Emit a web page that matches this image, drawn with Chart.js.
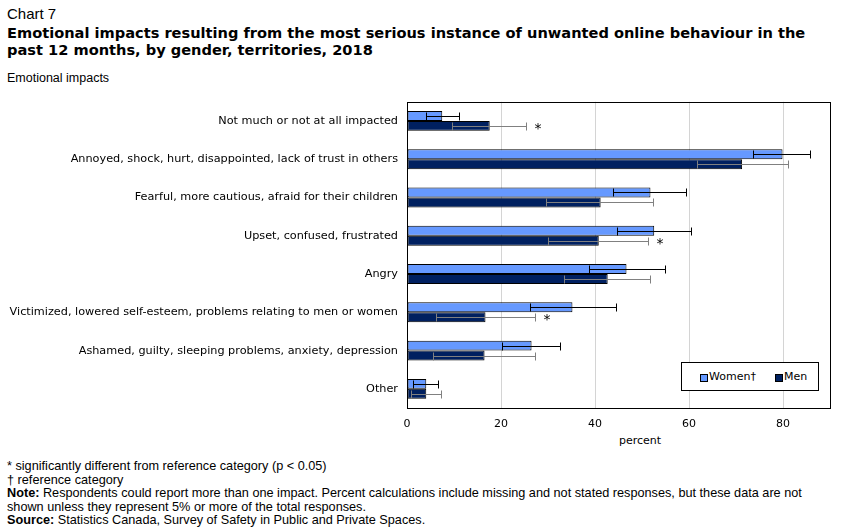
<!DOCTYPE html>
<html>
<head>
<meta charset="utf-8">
<script src="https://cdn.jsdelivr.net/npm/chart.js@4/dist/chart.umd.min.js"></script>
<style>
    body { margin: 0; background: #fff; font-family: 'Liberation Sans', Arial, sans-serif; color: #000; }
    .txt { position: absolute; left: 7px; white-space: nowrap; }
    #wrap { position: absolute; left: 0; top: 86px; width: 846px; height: 344px; }
    #legenda { position: absolute; left: 681px; top: 362px; width: 136px; height: 27px; border: 1px solid #000; background: #fff;
               font-family: 'DejaVu Sans', Verdana, sans-serif; font-size: 11px; }
    #legenda span.box { position: absolute; top: 11px; width: 6px; height: 6px; border: 1px solid #000; }
    #legenda span.lbl { position: absolute; top: 7px; }
</style>
</head>
<body>

<div class="txt" style="top:5px;font-size:15px;">Chart 7</div>
<div class="txt" style="top:24px;font-family:'DejaVu Sans',Verdana,sans-serif;font-size:14.6px;font-weight:bold;line-height:17px;">Emotional impacts resulting from the most serious instance of unwanted online behaviour in the<br>past 12 months, by gender, territories, 2018</div>
<div class="txt" style="top:71px;font-size:12.5px;">Emotional impacts</div>

<div id="wrap"><canvas id="chartImpactos"></canvas></div>

<div class="txt" style="left:619px;top:434px;font-family:'DejaVu Sans',Verdana,sans-serif;font-size:11px;">percent</div>

<div id="legenda">
    <span class="box" style="left:18px;background:#6699ff;"></span><span class="lbl" style="left:27px;">Women†</span>
    <span class="box" style="left:93px;background:#002060;"></span><span class="lbl" style="left:102px;">Men</span>
</div>

<div class="txt" style="top:460px;font-size:12.7px;line-height:13.5px;">
* significantly different from reference category (p &lt; 0.05)<br>
† reference category<br>
<b>Note:</b> Respondents could report more than one impact. Percent calculations include missing and not stated responses, but these data are not<br>
shown unless they represent 5% or more of the total responses.<br>
<b>Source:</b> Statistics Canada, Survey of Safety in Public and Private Spaces.
</div>

<script>
// ========== DADOS ==========
const categorias = [
    'Not much or not at all impacted',
    'Annoyed, shock, hurt, disappointed, lack of trust in others',
    'Fearful, more cautious, afraid for their children',
    'Upset, confused, frustrated',
    'Angry',
    'Victimized, lowered self-esteem, problems relating to men or women',
    'Ashamed, guilty, sleeping problems, anxiety, depression',
    'Other'
];

const mulheres = [7.5, 79.9, 51.8, 52.6, 46.7, 35.2, 26.5, 4.1];
const mulheresMin = [4.1, 73.7, 43.9, 44.6, 38.7, 26.2, 20.2, 1.3];
const mulheresMax = [11.1, 85.8, 59.4, 60.5, 54.8, 44.4, 32.6, 6.7];

const homens = [17.6, 71.3, 41.2, 40.8, 42.7, 16.7, 16.5, 4.1];
const homensMin = [9.5, 61.8, 29.6, 30.1, 33.5, 6.2, 5.6, 0.9];
const homensMax = [25.4, 81.0, 52.4, 51.3, 51.8, 27.3, 27.3, 7.3];

// asterisco = diferente da categoria de referência
const homensSig = [true, false, false, true, false, true, false, false];

const ticksX = [0, 20, 40, 60, 80];

const CORES = {
    mulheres: '#6699ff',
    homens: '#002060',
    erroMulheres: '#000000',
    erroHomens: '#808080',
    grade: '#d4d4d4'
};

// ========== PLUGINS ==========
const barrasErro = {
    id: 'barrasErro',
    afterDatasetsDraw(chart) {
        const ctx = chart.ctx;
        const x = chart.scales.x;
        const series = [
            { min: mulheresMin, max: mulheresMax, cor: CORES.erroMulheres },
            { min: homensMin, max: homensMax, cor: CORES.erroHomens }
        ];
        ctx.save();
        series.forEach((s, i) => {
            const meta = chart.getDatasetMeta(i);
            meta.data.forEach((bar, j) => {
                const y = Math.round(bar.y) + 0.5;
                const x1 = Math.round(x.getPixelForValue(s.min[j])) + 0.5;
                const x2 = Math.round(x.getPixelForValue(s.max[j])) + 0.5;
                ctx.strokeStyle = s.cor;
                ctx.lineWidth = 1;
                ctx.beginPath();
                ctx.moveTo(x1, y); ctx.lineTo(x2, y);
                ctx.moveTo(x1, y - 4); ctx.lineTo(x1, y + 4);
                ctx.moveTo(x2, y - 4); ctx.lineTo(x2, y + 4);
                ctx.stroke();
                if (i === 1 && homensSig[j]) {
                    ctx.fillStyle = '#000';
                    ctx.font = '14px "DejaVu Sans", Verdana, sans-serif';
                    ctx.textBaseline = 'middle';
                    ctx.fillText('*', x2 + 8, y + 3);
                }
            });
        });
        ctx.restore();
    }
};

const moldura = {
    id: 'moldura',
    afterDraw(chart) {
        const a = chart.chartArea;
        const ctx = chart.ctx;
        ctx.save();
        ctx.strokeStyle = '#000';
        ctx.lineWidth = 1;
        ctx.strokeRect(Math.round(a.left) + 0.5, Math.round(a.top) + 0.5,
                       Math.round(a.right - a.left), Math.round(a.bottom - a.top));
        ctx.restore();
    }
};

// ========== GRÁFICO ==========
const ctx = document.getElementById('chartImpactos').getContext('2d');
new Chart(ctx, {
    type: 'bar',
    data: {
        labels: categorias,
        datasets: [
            {
                label: 'Women†',
                data: mulheres,
                backgroundColor: CORES.mulheres,
                borderColor: '#000',
                borderWidth: 1,
                borderSkipped: false
            },
            {
                label: 'Men',
                data: homens,
                backgroundColor: CORES.homens,
                borderColor: '#000',
                borderWidth: 1,
                borderSkipped: false
            }
        ]
    },
    options: {
        indexAxis: 'y',
        responsive: true,
        maintainAspectRatio: false,
        animation: false,
        categoryPercentage: 0.52,
        barPercentage: 1,
        layout: { padding: { top: 4, right: 16, left: 0, bottom: 0 } },
        plugins: { legend: { display: false }, tooltip: { enabled: false } },
        scales: {
            x: {
                min: 0,
                max: 90,
                afterBuildTicks: (s) => { s.ticks = ticksX.map(v => ({ value: v })); },
                afterFit: (s) => { s.height = 22; },
                grid: {
                    color: (c) => c.tick && c.tick.value === 0 ? 'rgba(0,0,0,0)' : CORES.grade,
                    drawTicks: false
                },
                border: { display: false },
                ticks: {
                    color: '#000',
                    padding: 10,
                    font: { family: "'DejaVu Sans', Verdana, sans-serif", size: 11 }
                }
            },
            y: {
                afterFit: (s) => { s.width = 407; },
                grid: { display: false, drawTicks: false },
                border: { display: false },
                ticks: {
                    color: '#000',
                    padding: 9,
                    font: { family: "'DejaVu Sans', Verdana, sans-serif", size: 11.25 }
                }
            }
        }
    },
    plugins: [barrasErro, moldura]
});
</script>
</body>
</html>
